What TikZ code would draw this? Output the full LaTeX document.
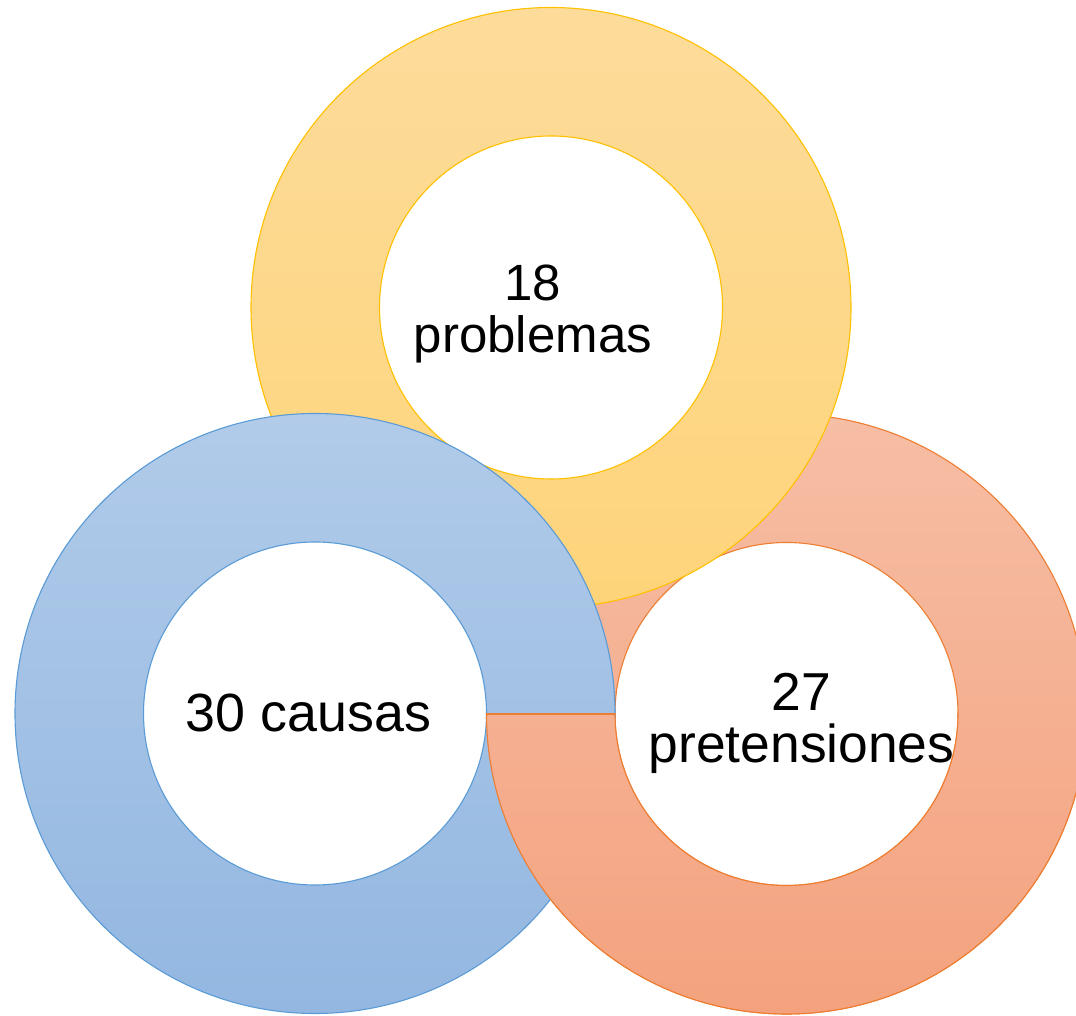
\documentclass[tikz,border=0pt]{standalone}
\usepackage{fontspec}
\setmainfont{Liberation Sans}
\definecolor{yTop}{HTML}{FDDC9B}
\definecolor{yBot}{HTML}{FED47A}
\definecolor{yLine}{HTML}{FFC000}
\definecolor{bTop}{HTML}{B1CBE9}
\definecolor{bBot}{HTML}{93B7E1}
\definecolor{bLine}{HTML}{5B9BD5}
\definecolor{oTop}{HTML}{F6BEA5}
\definecolor{oBot}{HTML}{F4A27E}
\definecolor{oLine}{HTML}{ED7D31}
\tikzset{
  ringtext/.style={align=center, inner sep=0pt, text=black},
}
\begin{document}
\begin{tikzpicture}[x=1pt,y=1pt]
\useasboundingbox (0,0) rectangle (1076,1015);
\clip (0,0) rectangle (1076,1015);
\coordinate (cy) at (551,707.5);
\coordinate (cb) at (315,301.5);
\coordinate (co) at (786.5,301);
% orange ring (full)
\shade[top color=oTop, bottom color=oBot, even odd rule] (co) circle (300) (co) circle (171.5);
\fill[white] (co) circle (171.5);
\draw[oLine, line width=1.1pt] (co) circle (300) (co) circle (171.5);
% yellow ring
\shade[top color=yTop, bottom color=yBot, even odd rule] (cy) circle (300) (cy) circle (171.5);
\fill[white] (cy) circle (171.5);
\draw[yLine, line width=1.1pt] (cy) circle (300) (cy) circle (171.5);
% blue ring
\shade[top color=bTop, bottom color=bBot, even odd rule] (cb) circle (300) (cb) circle (171.5);
\fill[white] (cb) circle (171.5);
\draw[bLine, line width=1.1pt] (cb) circle (300) (cb) circle (171.5);
% orange lower half on top of blue
\begin{scope}
\clip (0,0) rectangle (1076,301);
\shade[top color=oTop, bottom color=oBot, even odd rule] (co) circle (300) (co) circle (171.5);
\draw[oLine, line width=1.1pt] (co) circle (300) (co) circle (171.5);
\end{scope}
\coordinate (oL) at (486.5,301);
\coordinate (oI) at (615,301);
\draw[oLine, line width=1.1pt] (oL) -- (oI);
% texts
\node[ringtext, font=\fontsize{51}{52}\selectfont] (t1) at (533,701) {18\\problemas};
\node[ringtext, font=\fontsize{53.8}{54}\selectfont] (t2) at (308.5,302) {30 causas};
\node[ringtext, font=\fontsize{53.4}{52}\selectfont] (t3) at (801.5,292) {27\\pretensiones};
\end{tikzpicture}
\end{document}
